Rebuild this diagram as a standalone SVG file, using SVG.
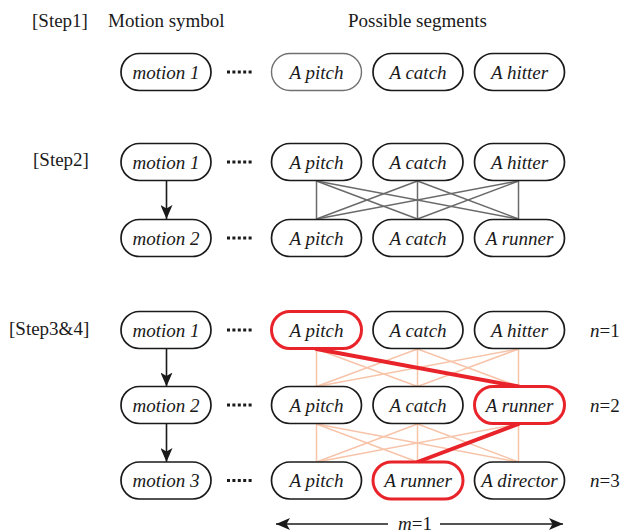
<svg xmlns="http://www.w3.org/2000/svg" width="622" height="531" viewBox="0 0 622 531" font-family="'Liberation Serif', 'Times New Roman', Times, 'DejaVu Serif', serif">
<defs>
<style>
text{font-family:'Liberation Serif','Times New Roman',Times,'DejaVu Serif',serif;font-size:19px;fill:#1a1a1a}
.lbl{font-style:italic;text-anchor:middle}
.nd{fill:#fff;stroke:#1a1a1a;stroke-width:1.7}
.nd.gray{stroke:#707070;stroke-width:1.4}
.nd.red{stroke:#e8232a;stroke-width:3}
.dots{stroke:#1a1a1a;stroke-width:3;stroke-dasharray:3 2.4}
.g2 line{stroke:#6a6a6a;stroke-width:1.5}
.g3 line{stroke:#f7c4aa;stroke-width:1.5}
.redp{stroke:#e8232a;stroke-width:4;stroke-linecap:round}
.arr{stroke:#1a1a1a;stroke-width:1.6;fill:none}
</style>
<marker id="ah" markerUnits="userSpaceOnUse" markerWidth="14" markerHeight="12" viewBox="0 0 14 12" refX="14" refY="6" orient="auto">
<path d="M0,0 L14,6 L0,12 L3.5,6 z" fill="#1a1a1a"/>
</marker>
</defs>

<!-- headers -->
<text x="32" y="27">[Step1]</text>
<text x="108" y="27">Motion symbol</text>
<text x="348" y="27">Possible segments</text>
<text x="33" y="166">[Step2]</text>
<text x="9" y="335">[Step3&amp;4]</text>

<!-- connectors -->
<g id="connectors">
<g class="g2">
<line x1="316.5" y1="181" x2="316.5" y2="219"/>
<line x1="316.5" y1="181" x2="417.5" y2="219"/>
<line x1="316.5" y1="181" x2="518.5" y2="219"/>
<line x1="417.5" y1="181" x2="316.5" y2="219"/>
<line x1="417.5" y1="181" x2="417.5" y2="219"/>
<line x1="417.5" y1="181" x2="518.5" y2="219"/>
<line x1="518.5" y1="181" x2="316.5" y2="219"/>
<line x1="518.5" y1="181" x2="417.5" y2="219"/>
<line x1="518.5" y1="181" x2="518.5" y2="219"/>
</g>
<g class="g3">
<line x1="316.5" y1="349" x2="316.5" y2="386.5"/>
<line x1="316.5" y1="349" x2="417.5" y2="386.5"/>
<line x1="417.5" y1="349" x2="316.5" y2="386.5"/>
<line x1="417.5" y1="349" x2="417.5" y2="386.5"/>
<line x1="417.5" y1="349" x2="518.5" y2="386.5"/>
<line x1="518.5" y1="349" x2="316.5" y2="386.5"/>
<line x1="518.5" y1="349" x2="417.5" y2="386.5"/>
<line x1="518.5" y1="349" x2="518.5" y2="386.5"/>
<line x1="316.5" y1="424" x2="316.5" y2="462"/>
<line x1="316.5" y1="424" x2="417.5" y2="462"/>
<line x1="316.5" y1="424" x2="518.5" y2="462"/>
<line x1="417.5" y1="424" x2="316.5" y2="462"/>
<line x1="417.5" y1="424" x2="417.5" y2="462"/>
<line x1="417.5" y1="424" x2="518.5" y2="462"/>
<line x1="518.5" y1="424" x2="316.5" y2="462"/>
<line x1="518.5" y1="424" x2="518.5" y2="462"/>
</g>
<line class="redp" x1="316.5" y1="349" x2="518.5" y2="386.5"/>
<line class="redp" x1="518.5" y1="424" x2="417.5" y2="462"/>
<line class="arr" x1="166.5" y1="181" x2="166.5" y2="219" marker-end="url(#ah)"/>
<line class="arr" x1="166.5" y1="349" x2="166.5" y2="386.5" marker-end="url(#ah)"/>
<line class="arr" x1="166.5" y1="424" x2="166.5" y2="462" marker-end="url(#ah)"/>
<line class="arr" x1="388" y1="524" x2="276" y2="524" marker-end="url(#ah)"/>
<line class="arr" x1="440" y1="524" x2="563" y2="524" marker-end="url(#ah)"/>
</g>

<!-- dotted leaders -->
<line class="dots" x1="227" y1="72" x2="252" y2="72"/>
<line class="dots" x1="227" y1="162" x2="252" y2="162"/>
<line class="dots" x1="227" y1="238" x2="252" y2="238"/>
<line class="dots" x1="227" y1="330" x2="252" y2="330"/>
<line class="dots" x1="227" y1="405" x2="252" y2="405"/>
<line class="dots" x1="227" y1="480.5" x2="252" y2="480.5"/>

<!-- Step1 -->
<g id="s1-motion1"><rect class="nd" x="121" y="53.5" width="90" height="37" rx="18.5"/><text class="lbl" x="166" y="78.5">motion 1</text></g>
<g id="s1-pitch"><rect class="nd gray" x="271.5" y="53.5" width="90" height="37" rx="18.5"/><text class="lbl" x="316.5" y="78.5">A pitch</text></g>
<g id="s1-catch"><rect class="nd" x="373" y="53.5" width="90" height="37" rx="18.5"/><text class="lbl" x="418" y="78.5">A catch</text></g>
<g id="s1-hitter"><rect class="nd" x="474.5" y="53.5" width="90" height="37" rx="18.5"/><text class="lbl" x="519.5" y="78.5">A hitter</text></g>

<!-- Step2 -->
<g id="s2-motion1"><rect class="nd" x="121" y="143.5" width="90" height="37" rx="18.5"/><text class="lbl" x="166" y="168.5">motion 1</text></g>
<g id="s2-pitch1"><rect class="nd" x="271.5" y="143.5" width="90" height="37" rx="18.5"/><text class="lbl" x="316.5" y="168.5">A pitch</text></g>
<g id="s2-catch1"><rect class="nd" x="373" y="143.5" width="90" height="37" rx="18.5"/><text class="lbl" x="418" y="168.5">A catch</text></g>
<g id="s2-hitter1"><rect class="nd" x="474.5" y="143.5" width="90" height="37" rx="18.5"/><text class="lbl" x="519.5" y="168.5">A hitter</text></g>
<g id="s2-motion2"><rect class="nd" x="121" y="219.5" width="90" height="37" rx="18.5"/><text class="lbl" x="166" y="244.5">motion 2</text></g>
<g id="s2-pitch2"><rect class="nd" x="271.5" y="219.5" width="90" height="37" rx="18.5"/><text class="lbl" x="316.5" y="244.5">A pitch</text></g>
<g id="s2-catch2"><rect class="nd" x="373" y="219.5" width="90" height="37" rx="18.5"/><text class="lbl" x="418" y="244.5">A catch</text></g>
<g id="s2-runner2"><rect class="nd" x="474.5" y="219.5" width="90" height="37" rx="18.5"/><text class="lbl" x="519.5" y="244.5">A runner</text></g>

<!-- Step3&4 -->
<g id="s3-motion1"><rect class="nd" x="121" y="311.5" width="90" height="37" rx="18.5"/><text class="lbl" x="166" y="336.5">motion 1</text></g>
<g id="s3-pitch1"><rect class="nd red" x="271.5" y="311.5" width="90" height="37" rx="18.5"/><text class="lbl" x="316.5" y="336.5">A pitch</text></g>
<g id="s3-catch1"><rect class="nd" x="373" y="311.5" width="90" height="37" rx="18.5"/><text class="lbl" x="418" y="336.5">A catch</text></g>
<g id="s3-hitter1"><rect class="nd" x="474.5" y="311.5" width="90" height="37" rx="18.5"/><text class="lbl" x="519.5" y="336.5">A hitter</text></g>
<g id="s3-motion2"><rect class="nd" x="121" y="386.5" width="90" height="37" rx="18.5"/><text class="lbl" x="166" y="411.5">motion 2</text></g>
<g id="s3-pitch2"><rect class="nd" x="271.5" y="386.5" width="90" height="37" rx="18.5"/><text class="lbl" x="316.5" y="411.5">A pitch</text></g>
<g id="s3-catch2"><rect class="nd" x="373" y="386.5" width="90" height="37" rx="18.5"/><text class="lbl" x="418" y="411.5">A catch</text></g>
<g id="s3-runner2"><rect class="nd red" x="474.5" y="386.5" width="90" height="37" rx="18.5"/><text class="lbl" x="519.5" y="411.5">A runner</text></g>
<g id="s3-motion3"><rect class="nd" x="121" y="462" width="90" height="37" rx="18.5"/><text class="lbl" x="166" y="487">motion 3</text></g>
<g id="s3-pitch3"><rect class="nd" x="271.5" y="462" width="90" height="37" rx="18.5"/><text class="lbl" x="316.5" y="487">A pitch</text></g>
<g id="s3-runner3"><rect class="nd red" x="373" y="462" width="90" height="37" rx="18.5"/><text class="lbl" x="418" y="487">A runner</text></g>
<g id="s3-director3"><rect class="nd" x="474.5" y="462" width="90" height="37" rx="18.5"/><text class="lbl" x="519.5" y="487">A director</text></g>

<!-- n labels -->
<text x="590" y="336.5"><tspan font-style="italic">n</tspan>=1</text>
<text x="590" y="411.5"><tspan font-style="italic">n</tspan>=2</text>
<text x="590" y="487"><tspan font-style="italic">n</tspan>=3</text>
<text x="415" y="529.5" text-anchor="middle"><tspan font-style="italic">m</tspan>=1</text>
</svg>
